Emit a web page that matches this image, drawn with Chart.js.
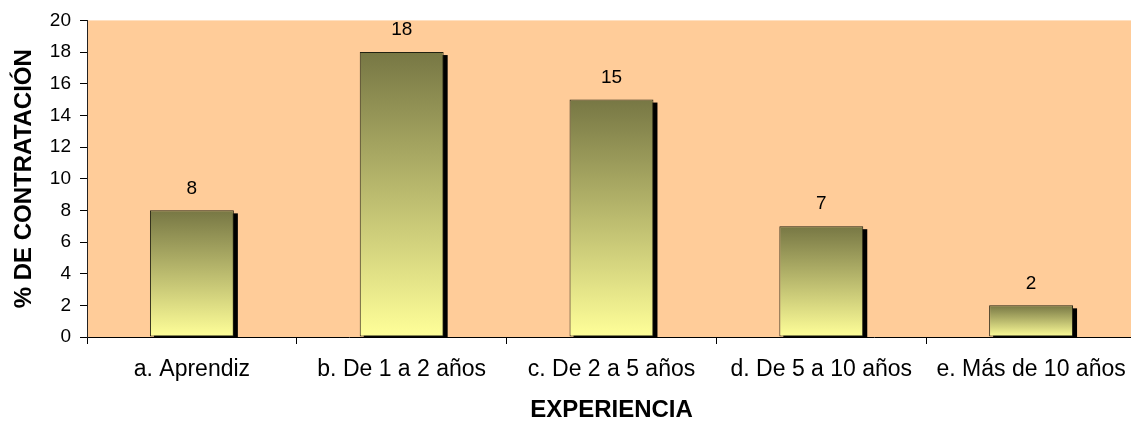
<!DOCTYPE html>
<html>
<head>
<meta charset="utf-8">
<script src="https://cdn.jsdelivr.net/npm/chart.js@4.4.0/dist/chart.umd.min.js"></script>
<style>
  html, body { margin: 0; padding: 0; background: #ffffff; overflow: hidden; }
  #wrap { width: 1140px; height: 423px; }
</style>
</head>
<body>
<div id="wrap"><canvas id="experienciaChart" width="1140" height="423"></canvas></div>
<script>
// datos del gráfico
const categorias = ['a. Aprendiz', 'b. De 1 a 2 años', 'c. De 2 a 5 años', 'd. De 5 a 10 años', 'e. Más de 10 años'];
const valores = [8, 18, 15, 7, 2];
const ticksY = [0, 2, 4, 6, 8, 10, 12, 14, 16, 18, 20];

const fuente = 'Liberation Sans, Arial, sans-serif';
const colorArriba = '#777744';
const colorAbajo = '#ffff99';

document.addEventListener('DOMContentLoaded', function() {
    const ctx = document.getElementById('experienciaChart').getContext('2d');

    // fondo del área de trazado y sombra negra de las barras
    const fondoYSombra = {
        id: 'fondoYSombra',
        beforeDraw: function(chart) {
            const a = chart.chartArea;
            const c = chart.ctx;
            c.save();
            c.fillStyle = '#ffcc99';
            c.fillRect(a.left, a.top, a.right - a.left, a.bottom - a.top);
            c.restore();
        },
        beforeDatasetsDraw: function(chart) {
            const c = chart.ctx;
            const base = chart.scales.y.getPixelForValue(0);
            c.save();
            c.fillStyle = '#000000';
            chart.getDatasetMeta(0).data.forEach(function(bar) {
                const w = bar.width;
                c.fillRect(bar.x - w / 2 + 4, bar.y + 3, w, base - bar.y - 3);
            });
            c.restore();
        },
        // valores encima de cada barra
        afterDatasetsDraw: function(chart) {
            const c = chart.ctx;
            c.save();
            c.font = '19px ' + fuente;
            c.fillStyle = '#000000';
            c.textAlign = 'center';
            c.textBaseline = 'middle';
            chart.getDatasetMeta(0).data.forEach(function(bar, i) {
                c.fillText(String(valores[i]), bar.x, bar.y - 22);
            });
            c.restore();
        }
    };

    new Chart(ctx, {
        type: 'bar',
        data: {
            labels: categorias,
            datasets: [{
                data: valores,
                backgroundColor: function(context) {
                    const chart = context.chart;
                    if (!chart.chartArea || context.type !== 'data') return colorAbajo;
                    const y = chart.scales.y;
                    const top = y.getPixelForValue(context.raw);
                    const bottom = y.getPixelForValue(0);
                    const g = chart.ctx.createLinearGradient(0, top, 0, bottom);
                    g.addColorStop(0, colorArriba);
                    g.addColorStop(1, colorAbajo);
                    return g;
                },
                borderColor: '#222211',
                borderWidth: 1,
                borderSkipped: false,
                barPercentage: 0.8,
                categoryPercentage: 0.5
            }]
        },
        options: {
            responsive: false,
            animation: false,
            events: [],
            layout: { padding: { left: 0, top: 20, right: 4, bottom: 0 } },
            plugins: {
                legend: { display: false },
                tooltip: { enabled: false }
            },
            scales: {
                x: {
                    afterFit: function(scale) { scale.height = 86; },
                    grid: {
                        display: true,
                        drawOnChartArea: false,
                        offset: true,
                        tickLength: 7,
                        color: '#000000'
                    },
                    border: { display: true, color: '#000000', width: 1 },
                    ticks: {
                        color: '#000000',
                        font: { family: fuente, size: 23 },
                        padding: 12,
                        maxRotation: 0,
                        autoSkip: false
                    },
                    title: {
                        display: true,
                        text: 'EXPERIENCIA',
                        color: '#000000',
                        font: { family: fuente, size: 24, weight: 'bold' },
                        padding: { top: 0, bottom: -2 }
                    }
                },
                y: {
                    min: 0,
                    max: 20,
                    afterFit: function(scale) { scale.width = 87; },
                    afterBuildTicks: function(scale) {
                        scale.ticks = ticksY.map(function(v) { return { value: v }; });
                    },
                    grid: {
                        display: true,
                        drawOnChartArea: false,
                        tickLength: 7,
                        color: '#000000'
                    },
                    border: { display: true, color: '#222222', width: 1 },
                    ticks: {
                        color: '#000000',
                        font: { family: fuente, size: 19 },
                        padding: 9
                    },
                    title: {
                        display: true,
                        text: '% DE CONTRATACIÓN',
                        color: '#000000',
                        font: { family: fuente, size: 24, weight: 'bold' },
                        padding: { top: 10, bottom: 0 }
                    }
                }
            }
        },
        plugins: [fondoYSombra]
    });
});
</script>
</body>
</html>
